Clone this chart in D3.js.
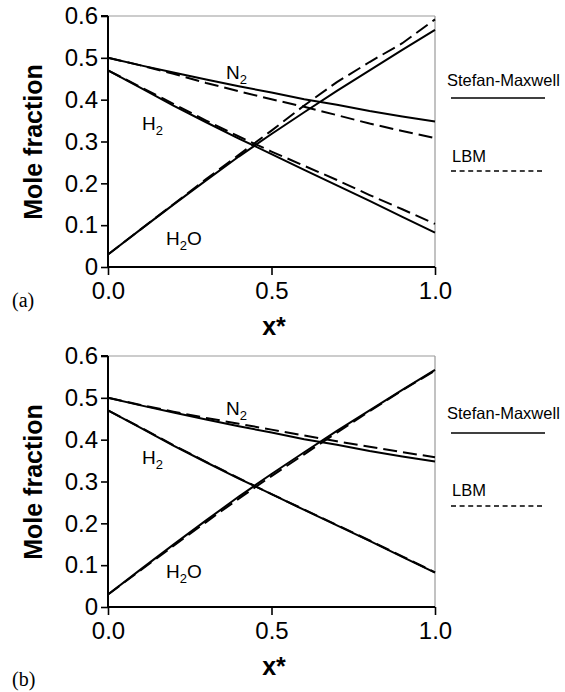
<!DOCTYPE html>
<html><head><meta charset="utf-8">
<script src="https://cdn.jsdelivr.net/npm/d3@7"></script>
<style>body{margin:0;background:#fff}svg{display:block}</style>
</head><body>
<svg id="c" width="565" height="692"></svg>
<script>
// ---- data ----
const xs = [0, 0.1, 0.2, 0.3, 0.4, 0.5, 0.6, 0.7, 0.8, 0.9, 1.0];
// Stefan-Maxwell (same in both panels)
const smN2  = [0.500, 0.482, 0.465, 0.448, 0.432, 0.417, 0.401, 0.388, 0.373, 0.360, 0.348];
const smH2  = [0.470, 0.428, 0.386, 0.346, 0.307, 0.270, 0.232, 0.195, 0.158, 0.120, 0.082];
const smH2O = [0.030, 0.090, 0.149, 0.207, 0.264, 0.318, 0.370, 0.421, 0.470, 0.519, 0.567];
// LBM panel (a)
const lbmN2a  = [0.500, 0.482, 0.462, 0.440, 0.420, 0.401, 0.383, 0.363, 0.343, 0.325, 0.308];
const lbmH2a  = [0.470, 0.430, 0.390, 0.350, 0.312, 0.276, 0.242, 0.208, 0.172, 0.138, 0.103];
const lbmH2Oa = [0.030, 0.090, 0.150, 0.210, 0.268, 0.326, 0.386, 0.442, 0.490, 0.535, 0.592];
// LBM panel (b)
const lbmN2b  = [0.500, 0.483, 0.467, 0.452, 0.438, 0.424, 0.410, 0.396, 0.383, 0.370, 0.358];
const lbmH2b  = [0.470, 0.429, 0.387, 0.347, 0.308, 0.270, 0.233, 0.196, 0.159, 0.121, 0.083];
const lbmH2Ob = [0.030, 0.088, 0.146, 0.203, 0.259, 0.313, 0.365, 0.417, 0.468, 0.518, 0.565];

const yTicks = [0, 0.1, 0.2, 0.3, 0.4, 0.5, 0.6];
const yTickLabels = ["0", "0.1", "0.2", "0.3", "0.4", "0.5", "0.6"];
const xTicks = [0, 0.5, 1.0];
const xTickLabels = ["0.0", "0.5", "1.0"];
const panelTags = ["(a)", "(b)"];

// ---- drawing ----
const svg = d3.select("#c");
const SANS = "'Liberation Sans', Arial, Helvetica, sans-serif";
const SERIF = "'Liberation Serif', 'Times New Roman', serif";

function panel(offY, lbm, tag) {
  const top = offY === 0;
  const g = svg.append("g").attr("transform", `translate(0,${offY})`);
  const x = d3.scaleLinear().domain([0, 1]).range([108, 435]);
  const y = d3.scaleLinear().domain([0, 0.6]).range([267, 16]);

  // frame (gray top/right)
  g.append("line").attr("x1", x(0)).attr("x2", x(1)).attr("y1", y(0.6)).attr("y2", y(0.6))
    .attr("stroke", "#999").attr("stroke-width", 1.2);
  g.append("line").attr("x1", x(1)).attr("x2", x(1)).attr("y1", y(0.6)).attr("y2", y(0))
    .attr("stroke", "#999").attr("stroke-width", 1.2);

  // axes
  const ya = d3.axisLeft(y).tickValues(yTicks).tickSize(7).tickPadding(3)
    .tickFormat((d, i) => yTickLabels[i]);
  const xa = d3.axisBottom(x).tickValues(xTicks).tickSize(8).tickPadding(7)
    .tickFormat((d, i) => xTickLabels[i]);
  const gy = g.append("g").attr("transform", `translate(${x(0)},0)`).call(ya);
  const gx = g.append("g").attr("transform", `translate(0,${y(0)})`).call(xa);
  [gy, gx].forEach(a => {
    a.select(".domain").attr("stroke", "#000").attr("stroke-width", 2);
    a.selectAll(".tick line").attr("stroke", "#000").attr("stroke-width", 1.6);
    a.selectAll(".tick text").attr("fill", "#000").style("font-family", SANS).style("font-size", "24px");
  });
  gy.select(".domain").attr("d", `M0,${y(0.6)}H-7M0,${y(0.6)}V${y(0)}`);
  gx.select(".domain").attr("d", `M${x(0)},0H${x(1)}`);

  // lines
  const line = d3.line().x((d, i) => x(xs[i])).y(d => y(d)).curve(d3.curveLinear);
  const sm = [smN2, smH2, smH2O];
  sm.forEach(s => g.append("path").attr("d", line(s)).attr("fill", "none")
    .attr("stroke", "#000").attr("stroke-width", 2));
  lbm.forEach(s => g.append("path").attr("d", line(s)).attr("fill", "none")
    .attr("stroke", "#000").attr("stroke-width", 2).attr("stroke-dasharray", "14,6"));

  // species labels
  function species(tx, ty, main, sub, after) {
    const t = g.append("text").attr("x", tx).attr("y", ty)
      .style("font-family", SANS).style("font-size", "19px").attr("fill", "#000");
    t.append("tspan").text(main);
    t.append("tspan").text(sub).style("font-size", "13px").attr("dy", 5);
    if (after) t.append("tspan").text(after).attr("dy", -5);
  }
  species(226, top ? 79 : 75, "N", "2");
  species(142, top ? 130 : 124, "H", "2");
  species(166, top ? 245 : 238, "H", "2", "O");

  // axis titles
  g.append("text").attr("transform", `translate(42,142) rotate(-90)`)
    .attr("text-anchor", "middle").style("font-family", SANS).style("font-weight", "bold")
    .style("font-size", "25px").text("Mole fraction");
  g.append("text").attr("x", 274).attr("y", 335).attr("text-anchor", "middle")
    .style("font-family", SANS).style("font-weight", "bold").style("font-size", "25px").text("x*");
  g.append("text").attr("x", 12).attr("y", top ? 307 : 346)
    .style("font-family", SERIF).style("font-size", "20px").text(tag);

  // legend
  g.append("text").attr("x", 447).attr("y", top ? 86 : 79)
    .style("font-family", SANS).style("font-size", "16.5px").text("Stefan-Maxwell");
  g.append("line").attr("x1", 451).attr("x2", 545)
    .attr("y1", top ? 98 : 93).attr("y2", top ? 98 : 93)
    .attr("stroke", "#000").attr("stroke-width", 1.3);
  g.append("text").attr("x", 452).attr("y", top ? 162 : 156)
    .style("font-family", SANS).style("font-size", "16.5px").text("LBM");
  g.append("line").attr("x1", 451).attr("x2", 545)
    .attr("y1", top ? 171 : 166).attr("y2", top ? 171 : 166)
    .attr("stroke", "#000").attr("stroke-width", 1.3).attr("stroke-dasharray", "5,3.6");
}

panel(0, [lbmN2a, lbmH2a, lbmH2Oa], panelTags[0]);
panel(340, [lbmN2b, lbmH2b, lbmH2Ob], panelTags[1]);
</script>
</body></html>
